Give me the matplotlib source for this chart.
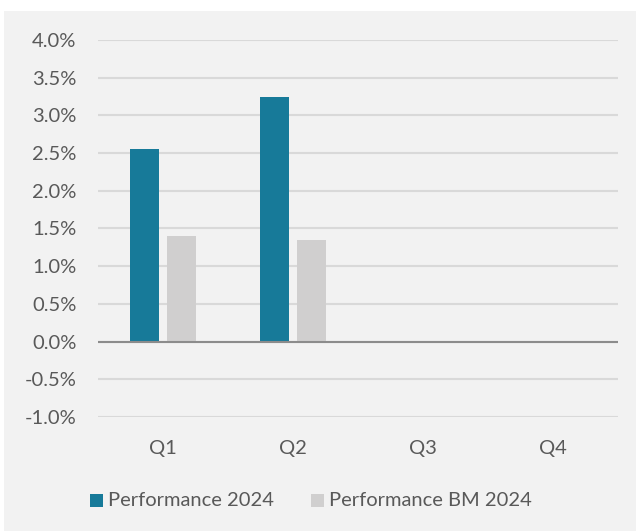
import numpy as np
import matplotlib.pyplot as plt
from matplotlib.patches import Rectangle

plt.rcParams['font.family'] = ['Lato', 'DejaVu Sans']

quarters = ['Q1', 'Q2', 'Q3', 'Q4']
perf_2024 = [2.556, 3.245, np.nan, np.nan]
perf_bm_2024 = [1.40, 1.345, np.nan, np.nan]
series_names = ['Performance 2024', 'Performance BM 2024']
colors = ['#177a99', '#d0cfcf']
text_color = '#595959'
panel_color = '#f2f2f2'

W, H = 636, 531
fig = plt.figure(figsize=(W / 100, H / 100), dpi=100, facecolor='white')
# grey chart panel (leaves a thin white border top/left)
fig.patches.append(Rectangle((4 / W, 0), 1, 1 - 11 / H, transform=fig.transFigure,
                             facecolor=panel_color, edgecolor='none', zorder=-5))

ax = fig.add_axes([98 / W, 1 - 417 / H, 520 / W, 377 / H])
ax.set_facecolor(panel_color)
ax.patch.set_alpha(0)

x = np.arange(len(quarters))
bw = 0.223
off = (bw + 0.06) / 2
ax.bar(x - off, perf_2024, bw, color=colors[0], zorder=3)
ax.bar(x + off, perf_bm_2024, bw, color=colors[1], zorder=3)

ax.set_xlim(-0.5, 3.5)
ax.set_ylim(-1.0, 4.0)
yt = np.arange(-1.0, 4.01, 0.5)
ax.set_yticks(yt)
ax.set_yticklabels([f'{v:.1f}%' for v in yt])
ax.set_xticks(x)
ax.set_xticklabels(quarters)
ax.grid(axis='y', color='#d9d9d9', linewidth=1.5, zorder=0)
ax.axhline(0, color='#8c8c8c', linewidth=1.5, zorder=4)
for s in ax.spines.values():
    s.set_visible(False)
ax.tick_params(length=0, colors=text_color, labelsize=14.5)
ax.tick_params(axis='y', pad=15.5)
ax.tick_params(axis='x', pad=16.5)

# legend
ly = 1 - 500 / H
sq = 13
for px, name, c in [(90, series_names[0], colors[0]), (311, series_names[1], colors[1])]:
    fig.patches.append(Rectangle((px / W, ly - sq / 2 / H), sq / W, sq / H,
                                 transform=fig.transFigure, facecolor=c, edgecolor='none', zorder=2))
    fig.text((px + sq + 5) / W, ly, name, color=text_color, fontsize=14.5, va='center', ha='left')

fig.savefig('out.png', dpi=100, facecolor='white')
